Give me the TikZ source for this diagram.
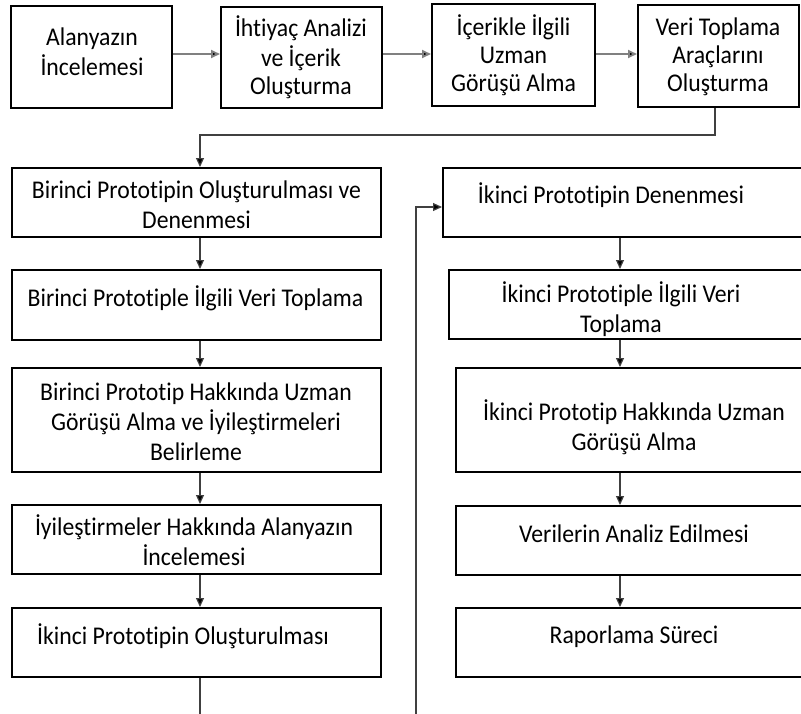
\documentclass[tikz,border=0pt]{standalone}
\usepackage{fontspec}
\setmainfont{Carlito}[Ligatures=NoCommon, FakeStretch=0.93]
\usetikzlibrary{arrows.meta}
\begin{document}
\begin{tikzpicture}[x=1pt,y=-1pt,
  box/.style={draw=black, line width=2pt, fill=white, inner sep=0pt},
  txt/.style={align=center, inner sep=0pt, font=\fontsize{25.5}{30}\selectfont},
  toptxt/.style={txt, font=\fontsize{25.5}{28}\selectfont},
  tighttxt/.style={txt, font=\fontsize{25.5}{26}\selectfont},
  link/.style={draw=black!75, line width=1.2pt, -{Triangle[length=9pt,width=8pt,fill=black]}},
  plain/.style={draw=black!75, line width=1.2pt},
  toplink/.style={draw=black!50, line width=1.8pt, -{Triangle[length=9pt,width=8pt,fill=black]}}
]
\useasboundingbox (0,0) rectangle (801,713);
\fill[white] (0,0) rectangle (801,713);
\clip (0,0) rectangle (801,713);

% top row boxes
\node[box, minimum width=161, minimum height=102] (t1) at (91.5,57) {};
\node[box, minimum width=161, minimum height=101] (t2) at (301.5,57.5) {};
\node[box, minimum width=163, minimum height=102] (t3) at (513.5,55) {};
\node[box, minimum width=161, minimum height=102] (t4) at (718.5,56) {};
\node[tighttxt] (t1x) at (92,55) {\strut Alanyazın\\İncelemesi\strut};
\node[toptxt] (t2x) at (301,59.4) {\strut İhtiyaç Analizi\\ve İçerik\\Oluşturma\strut};
\node[toptxt] (t3x) at (513.5,57.4) {\strut İçerikle İlgili\\Uzman\\Görüşü Alma\strut};
\node[toptxt] (t4x) at (718,57.4) {\strut Veri Toplama\\Araçlarını\\Oluşturma\strut};

% left column boxes
\node[box, minimum width=369, minimum height=69] (b1) at (196.5,202.5) {};
\node[box, minimum width=369, minimum height=70] (b2) at (196.5,305) {};
\node[box, minimum width=369, minimum height=104] (b3) at (196.5,420) {};
\node[box, minimum width=369, minimum height=69] (b4) at (196.5,539.5) {};
\node[box, minimum width=369, minimum height=69] (b5) at (196.5,642.5) {};
\node[txt] (b1x) at (196.5,207) {\strut Birinci Prototipin Oluşturulması ve\\Denenmesi\strut};
\node[txt] (b2x) at (195.5,300) {\strut Birinci Prototiple İlgili Veri Toplama\strut};
\node[txt] (b3x) at (196,424) {\strut Birinci Prototip Hakkında Uzman\\Görüşü Alma ve İyileştirmeleri\\Belirleme\strut};
\node[txt] (b4x) at (194,544) {\strut İyileştirmeler Hakkında Alanyazın\\İncelemesi\strut};
\node[txt] (b5x) at (183,638) {\strut İkinci Prototipin Oluşturulması\strut};

% right column boxes (they run on past the right edge)
\node[box, minimum width=370, minimum height=69] (r1) at (628,202.5) {};
\node[box, minimum width=364, minimum height=69] (r2) at (631,304.5) {};
\node[box, minimum width=357, minimum height=104] (r3) at (634.5,420) {};
\node[box, minimum width=357, minimum height=69] (r4) at (634.5,540.5) {};
\node[box, minimum width=357, minimum height=69] (r5) at (634.5,642.5) {};
\node[txt] (r1x) at (611,197) {\strut İkinci Prototipin Denenmesi\strut};
\node[txt] (r2x) at (621,311) {\strut İkinci Prototiple İlgili Veri\\Toplama\strut};
\node[txt] (r3x) at (634,429) {\strut İkinci Prototip Hakkında Uzman\\Görüşü Alma\strut};
\node[txt] (r4x) at (634,536) {\strut Verilerin Analiz Edilmesi\strut};
\node[txt] (r5x) at (634,637) {\strut Raporlama Süreci\strut};

% loose ends at the bottom edge
\coordinate (leftout) at (200,720);
\coordinate (loopin) at (416,720);

% top row links
\draw[toplink] (t1.east |- 0,54) -- (t2.west |- 0,54);
\draw[toplink] (t2.east |- 0,54) -- (t3.west |- 0,54);
\draw[toplink] (t3.east |- 0,54) -- (t4.west |- 0,54);

% down to the first prototype
\draw[link] (t4.south -| 715,0) -- (715,135) -| (b1.north -| 200,0);

% left column links
\draw[link] (b1.south -| 200,0) -- (b2.north -| 200,0);
\draw[link] (b2.south -| 200,0) -- (b3.north -| 200,0);
\draw[link] (b3.south -| 200,0) -- (b4.north -| 200,0);
\draw[link] (b4.south -| 200,0) -- (b5.north -| 200,0);
\draw[plain] (b5.south -| 200,0) -- (leftout);

% return path into the second prototype trial
\draw[link] (loopin) -- (416,207) -- (r1.west |- 0,207);

% right column links
\draw[link] (r1.south -| 620,0) -- (r2.north -| 620,0);
\draw[link] (r2.south -| 620,0) -- (r3.north -| 620,0);
\draw[link] (r3.south -| 620,0) -- (r4.north -| 620,0);
\draw[link] (r4.south -| 620,0) -- (r5.north -| 620,0);
\end{tikzpicture}
\end{document}
